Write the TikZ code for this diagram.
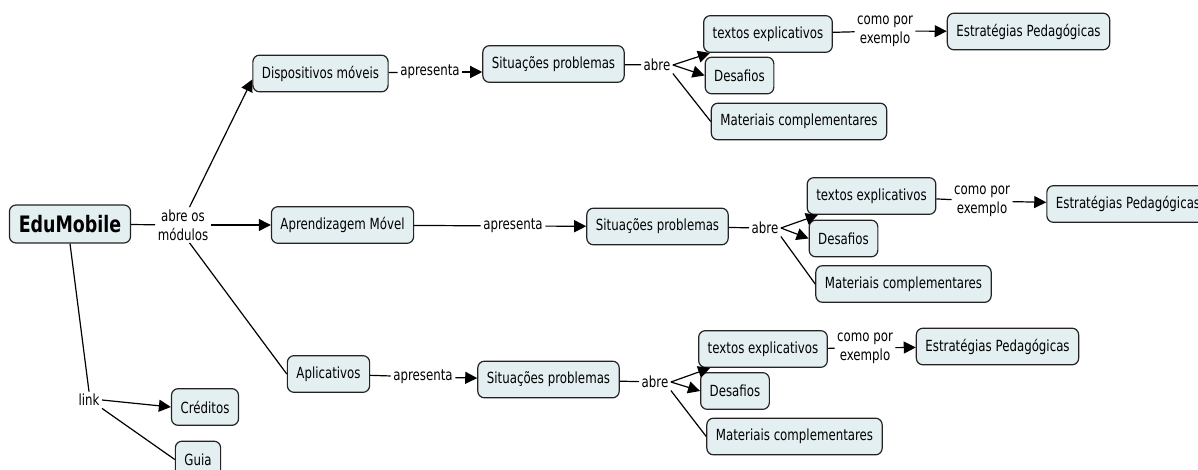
\documentclass[tikz,border=0pt]{standalone}
\usepackage{fontspec}
\setmainfont{DejaVu Sans}[FakeStretch=0.77]
\usetikzlibrary{arrows.meta}

\definecolor{conceptfill}{RGB}{228,239,242}
\definecolor{conceptline}{RGB}{35,35,35}
\tikzset{every picture/.style={line width=0.9pt}}
\tikzset{
  concept/.style={draw=conceptline, fill=conceptfill, rounded corners=5pt, line width=0.9pt,
    minimum height=27.5pt, inner xsep=6.8pt, font=\fontsize{11.5}{14}\selectfont},
  linkphrase/.style={inner sep=1.5pt, align=center, font=\fontsize{11.5}{14}\selectfont},
  toconcept/.style={-{Triangle[length=9pt,width=9pt]}},
}

\begin{document}
\begin{tikzpicture}[x=0.75pt,y=0.75pt,yscale=-1]
  \useasboundingbox (0,0) rectangle (1198,470);

  \node [concept, font=\fontsize{17}{19}\selectfont\bfseries, minimum height=28.5pt, inner xsep=7pt] (edu) at (70,224) {EduMobile};
  \node [linkphrase] (abreos) at (183,225) {abre os\\módulos};
  \node [concept] (disp) at (320.5,73.5) {Dispositivos móveis};
  \node [concept] (aprend) at (342.5,225) {Aprendizagem Móvel};
  \node [concept] (aplic) at (328.5,374) {Aplicativos};
  \node [linkphrase] (link) at (89,400) {link};
  \node [concept] (cred) at (205,407) {Créditos};
  \node [concept] (guia) at (198,459.5) {Guia};

  % dispositivos moveis
  \node [linkphrase] (apresA) at (430,72) {apresenta};
  \node [concept] (sitA) at (553.5,64) {Situações problemas};
  \node [linkphrase] (abreA) at (657,65) {abre};
  \node [concept] (textA) at (768,34) {textos explicativos};
  \node [linkphrase] (comoA) at (885,31) {como por\\exemplo};
  \node [concept] (estrA) at (1028.5,31.5) {Estratégias Pedagógicas};
  \node [concept] (desaA) at (739.5,75.5) {Desafios};
  \node [concept] (mateA) at (799,121.5) {Materiais complementares};

  % aprendizagem movel
  \node [linkphrase] (apresB) at (513,226) {apresenta};
  \node [concept] (sitB) at (657.5,226.5) {Situações problemas};
  \node [linkphrase] (abreB) at (765,228) {abre};
  \node [concept] (textB) at (871.5,196) {textos explicativos};
  \node [linkphrase] (comoB) at (982,201) {como por\\exemplo};
  \node [concept] (estrB) at (1128,204) {Estratégias Pedagógicas};
  \node [concept] (desaB) at (843.5,238.5) {Desafios};
  \node [concept] (mateB) at (903.5,284) {Materiais complementares};

  % aplicativos
  \node [linkphrase] (apresC) at (423,377) {apresenta};
  \node [concept] (sitC) at (548.5,379.5) {Situações problemas};
  \node [linkphrase] (abreC) at (655,382) {abre};
  \node [concept] (textC) at (763,349) {textos explicativos};
  \node [linkphrase] (comoC) at (865,348) {como por\\exemplo};
  \node [concept] (estrC) at (997.5,346.5) {Estratégias Pedagógicas};
  \node [concept] (desaC) at (735,391) {Desafios};
  \node [concept] (mateC) at (794.5,436.5) {Materiais complementares};

  \draw (edu) -- (abreos);
  \draw [toconcept] (abreos) -- (aprend);
  \draw [toconcept] (abreos.70) -- (disp.185);
  \draw (abreos.-70) -- (aplic.west);
  \draw (edu.south) -- (link.north);
  \draw [toconcept] (link.east) -- (cred.west);
  \draw (link.south east) -- (guia.west);

  \draw (disp) -- (apresA);
  \draw [toconcept] (apresA) -- (apresA -| sitA.west);
  \draw (sitA) -- (abreA);
  \draw [toconcept] (abreA.east) -- (textA);
  \draw [toconcept] (abreA.east) -- (desaA.west);
  \draw (abreA.south east) -- (mateA.west);
  \draw (textA) -- (comoA);
  \draw [toconcept] (comoA) -- (estrA);

  \draw (aprend) -- (apresB);
  \draw [toconcept] (apresB) -- (sitB);
  \draw (sitB) -- (abreB);
  \draw [toconcept] (abreB.east) -- (textB);
  \draw [toconcept] (abreB.east) -- (desaB.west);
  \draw (abreB.south east) -- (mateB.west);
  \draw (textB) -- (comoB);
  \draw [toconcept] (comoB) -- (estrB);

  \draw (aplic) -- (apresC);
  \draw [toconcept] (apresC) -- (sitC);
  \draw (sitC) -- (abreC);
  \draw [toconcept] (abreC.east) -- (textC);
  \draw [toconcept] (abreC.east) -- (desaC.west);
  \draw (abreC.south east) -- (mateC.west);
  \draw (textC) -- (comoC);
  \draw [toconcept] (comoC) -- (estrC);

\end{tikzpicture}
\end{document}
